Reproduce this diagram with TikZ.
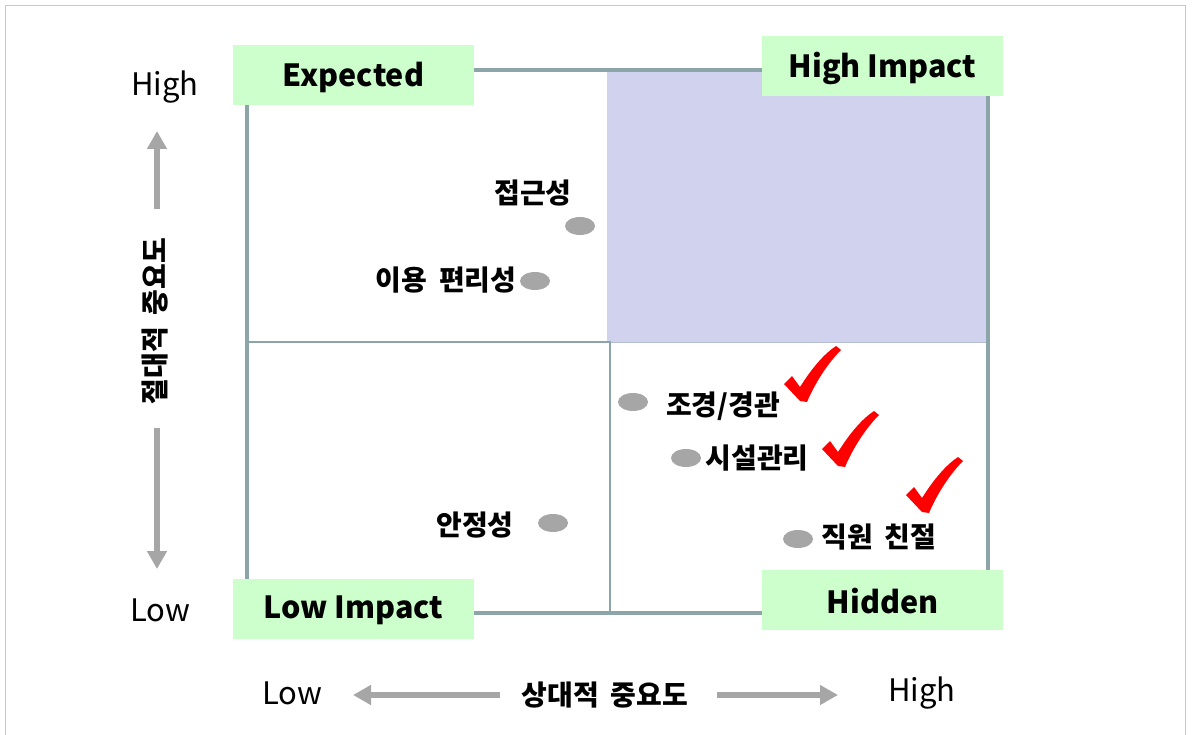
\documentclass[tikz,border=0pt]{standalone}
\usepackage{fontspec}
\setmainfont{Noto Sans CJK KR}
\usetikzlibrary{arrows.meta,shapes.geometric}
\definecolor{frameC}{RGB}{140,165,168}
\definecolor{greenC}{RGB}{204,255,204}
\definecolor{purpleC}{RGB}{209,211,238}
\definecolor{dotC}{RGB}{166,166,166}
\definecolor{arrowC}{RGB}{166,166,166}
\definecolor{borderC}{RGB}{200,200,200}
\definecolor{edgeC}{RGB}{180,188,208}
\newcommand{\wsp}{\hspace{12pt}}
\tikzset{
  framebox/.style={draw=frameC,line width=4pt},
  divider/.style={draw=frameC,line width=2.5pt},
  labelbox/.style={fill=greenC,minimum width=241pt,minimum height=60pt,inner sep=0pt},
  labeltext/.style={font=\fontsize{30.5}{34}\selectfont\bfseries,inner sep=0pt},
  axistext/.style={font=\fontsize{31}{34}\selectfont,inner sep=0pt},
  itemtext/.style={font=\fontsize{28}{30}\selectfont\bfseries,inner sep=0pt},
  dotnode/.style={ellipse,fill=dotC,minimum width=30pt,minimum height=18pt,inner sep=0pt},
  grayarrow/.style={draw=arrowC,line width=6pt,-{Triangle[width=19pt,length=18pt]}},
  checkmark/.pic={\fill[red] (0,0) -- (-16,-17) -- (-8,-25) -- (0,-14) .. controls (12,-33) and (24,-47) .. (36,-55) -- (41,-51) .. controls (28,-38) and (15,-18) .. (7,1) -- cycle;}
}
\begin{document}
\begin{tikzpicture}[x=1pt,y=-1pt]
\useasboundingbox (0,0) rectangle (1192,735);
% outer border
\draw[borderC,line width=1.5pt] (5.5,735) -- (5.5,5.5) -- (1185.5,5.5) -- (1185.5,735);
% quadrant fill
\fill[purpleC] (607,70) rectangle (987,343);
\draw[edgeC,line width=1pt] (607,343) -- (987,343);
% frame and dividers
\draw[framebox] (247,70) rectangle (988,613);
\coordinate (dl) at (247,342);
\coordinate (dc) at (610,342);
\coordinate (db) at (610,613);
\draw[divider] (dl) -- (dc) -- (db);
% corner labels
\node[labelbox] (expected) at (353.5,75) {};
\node[labeltext] at ([yshift=-2pt]expected.center) {Expected};
\node[labelbox] (highimpact) at (882.5,66.5) {};
\node[labeltext] at ([yshift=-2pt]highimpact.center) {High Impact};
\node[labelbox] (lowimpact) at (353.5,608.5) {};
\node[labeltext] at ([yshift=-2pt]lowimpact.center) {Low Impact};
\node[labelbox] (hidden) at (882.5,599.5) {};
\node[labeltext] at ([yshift=-2pt]hidden.center) {Hidden};
% axis labels
\node[axistext] (yhigh) at (165,87) {High};
\node[axistext] (ylow) at (160,610) {Low};
\node[axistext] (xlow) at (292,693) {Low};
\node[axistext] (xhigh) at (922,693) {High};
\node[itemtext,rotate=90] (ytitle) at (155,321) {절대적\wsp 중요도};
\node[itemtext] (xtitle) at (605,695) {상대적\wsp 중요도};
\coordinate (upS) at (157,209);
\coordinate (upT) at (157,131);
\coordinate (dnS) at (157,428);
\coordinate (dnT) at (157,569);
\coordinate (lfS) at (500,695);
\coordinate (lfT) at (353,695);
\coordinate (rtS) at (717,695);
\coordinate (rtT) at (838,695);
\draw[grayarrow] (upS) -- (upT);
\draw[grayarrow] (dnS) -- (dnT);
\draw[grayarrow] (lfS) -- (lfT);
\draw[grayarrow] (rtS) -- (rtT);
% items
\node[dotnode] (d1) at (580,226) {};
\node[itemtext] (t1) at (533,193) {접근성};
\node[dotnode] (d2) at (535,281) {};
\node[itemtext] (t2) at (446,280) {이용\wsp 편리성};
\node[dotnode] (d3) at (553,523) {};
\node[itemtext] (t3) at (475,525) {안정성};
\node[dotnode] (d4) at (633,402) {};
\node[itemtext] (t4) at (723,406) {조경/경관};
\node[dotnode] (d5) at (686,458) {};
\node[itemtext] (t5) at (757,458) {시설관리};
\node[dotnode] (d6) at (798,539) {};
\node[itemtext] (t6) at (879,537) {직원\wsp 친절};
% check marks
\pic at (800,401) {checkmark};
\pic at (838,466) {checkmark};
\pic at (922,512) {checkmark};
\end{tikzpicture}
\end{document}
